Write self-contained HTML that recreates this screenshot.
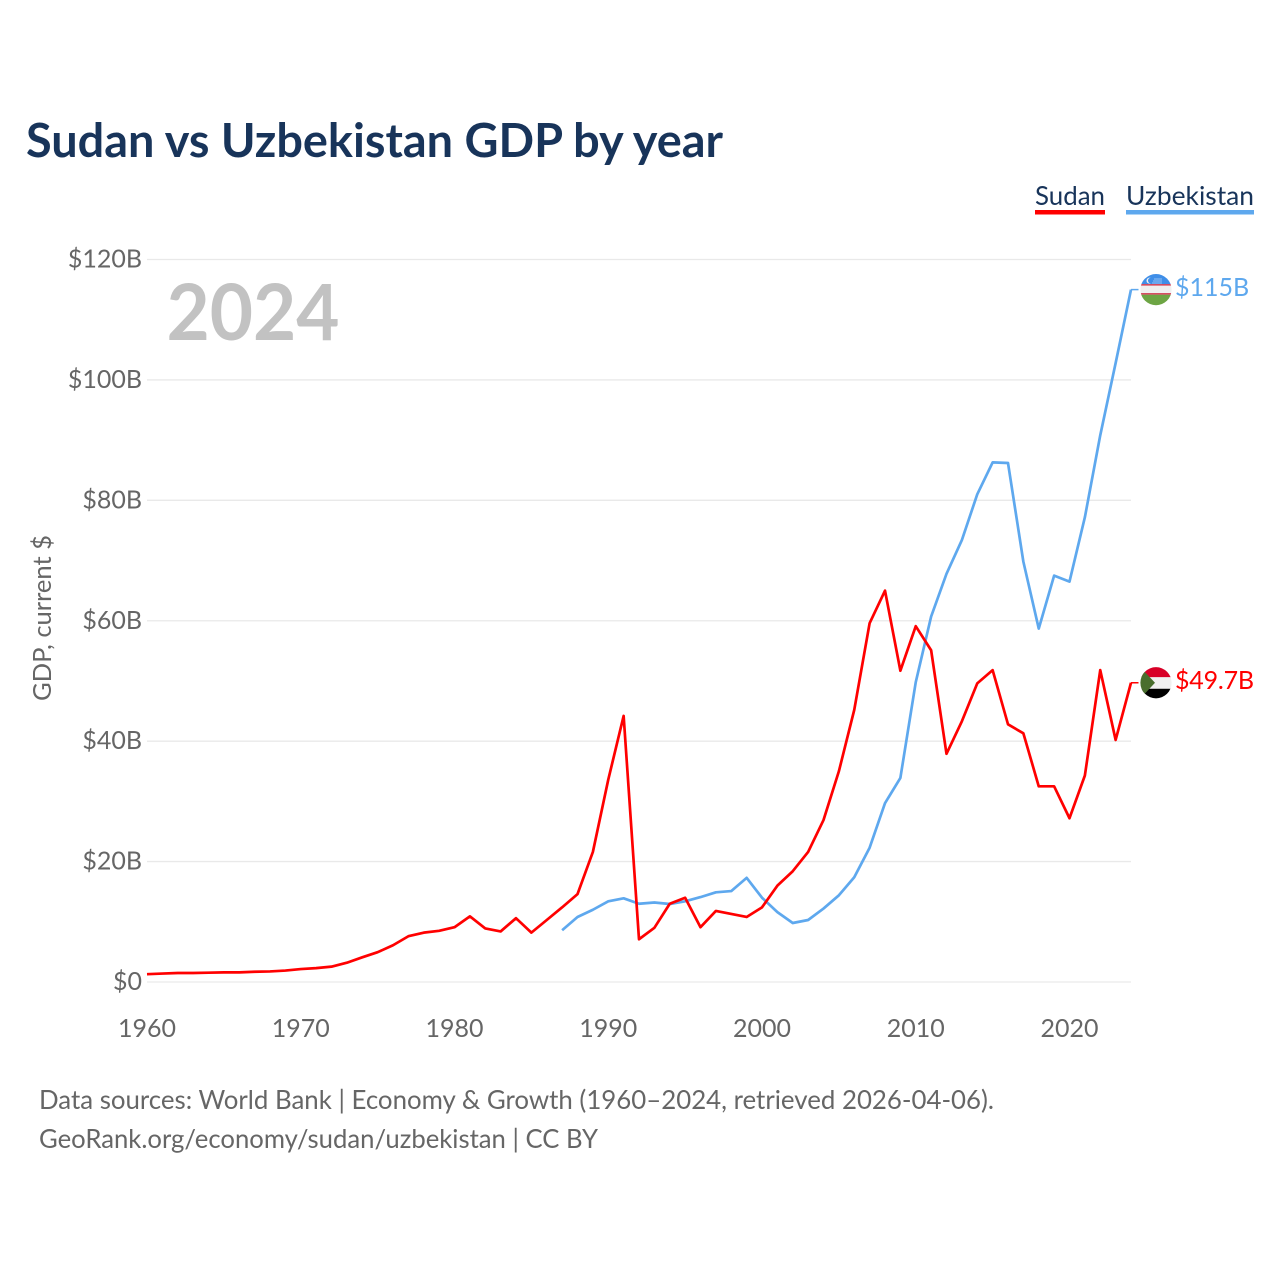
<!DOCTYPE html>
<html lang="en">
<head>
<meta charset="utf-8">
<title>Sudan vs Uzbekistan GDP by year</title>
<style>
html,body{margin:0;padding:0;background:#fff;}
svg{display:block;}
text{font-family:"Lato","Carlito","Liberation Sans",sans-serif;}
</style>
</head>
<body>
<svg id="chart" xmlns="http://www.w3.org/2000/svg" width="1280" height="1280" viewBox="0 0 1280 1280">
  <rect x="0" y="0" width="1280" height="1280" fill="#ffffff"/>
  <text x="26" y="157" font-size="47" font-weight="700" fill="#18345a" textLength="697" lengthAdjust="spacingAndGlyphs">Sudan vs Uzbekistan GDP by year</text>

  <g>
    <g>
      <text x="1035" y="205" font-size="26" fill="#18345a" textLength="70" lengthAdjust="spacingAndGlyphs">Sudan</text>
      <rect x="1035" y="210" width="70" height="4.5" fill="#ff0000"/>
    </g>
    <g>
      <text x="1126" y="205" font-size="26" fill="#18345a" textLength="128" lengthAdjust="spacingAndGlyphs">Uzbekistan</text>
      <rect x="1126" y="210" width="128" height="4.5" fill="#5ea8ee"/>
    </g>
  </g>

  <g id="grid"></g>
  <g id="yticks"></g>
  <g id="xticks"></g>

  <text transform="translate(51,701) rotate(-90)" x="0" y="0" font-size="25" fill="#666666" textLength="166" lengthAdjust="spacingAndGlyphs">GDP, current $</text>
  <text x="166.5" y="340" font-size="78" font-weight="700" fill="#c2c2c2" textLength="173" lengthAdjust="spacingAndGlyphs">2024</text>

  <g id="series"></g>
  <g id="ends"></g>

  <defs>
    <clipPath id="flag-clip"><circle cx="0" cy="0" r="15.6"/></clipPath>
  </defs>

  <g id="flag-uz" clip-path="url(#flag-clip)">
    <rect x="-16" y="-16" width="32" height="10.5" fill="#3f8ee8"/>
    <rect x="-16" y="-5.5" width="32" height="1.6" fill="#d23a50"/>
    <rect x="-16" y="-3.9" width="32" height="7.4" fill="#f0f0f0"/>
    <rect x="-16" y="3.5" width="32" height="1.6" fill="#d23a50"/>
    <rect x="-16" y="5.1" width="32" height="11" fill="#6da544"/>
    <circle cx="-6.5" cy="-9" r="3" fill="#f0f0f0"/>
    <circle cx="-5.2" cy="-9" r="2.8" fill="#3f8ee8"/>
    <rect x="-2" y="-11" width="8" height="0.8" fill="#a9cdf5"/>
    <rect x="-3" y="-9" width="9" height="0.8" fill="#a9cdf5"/>
    <rect x="-4" y="-7" width="10" height="0.8" fill="#a9cdf5"/>
  </g>
  <g id="flag-sd" clip-path="url(#flag-clip)">
    <rect x="-16" y="-16" width="32" height="10.5" fill="#d80027"/>
    <rect x="-16" y="-5.5" width="32" height="11.5" fill="#f0f0f0"/>
    <rect x="-16" y="6" width="32" height="10" fill="#000000"/>
    <path d="M-16,-16 L-1,0 L-16,16 Z" fill="#496e2d"/>
  </g>

  <text x="39" y="1109" font-size="26" fill="#666666" textLength="955" lengthAdjust="spacingAndGlyphs">Data sources: World Bank | Economy &amp; Growth (1960–2024, retrieved 2026-04-06).</text>
  <text x="39" y="1148" font-size="26" fill="#666666" textLength="559" lengthAdjust="spacingAndGlyphs">GeoRank.org/economy/sudan/uzbekistan | CC BY</text>
</svg>

<script>
var years = [1960,1961,1962,1963,1964,1965,1966,1967,1968,1969,1970,1971,1972,1973,1974,1975,1976,1977,1978,1979,1980,1981,1982,1983,1984,1985,1986,1987,1988,1989,1990,1991,1992,1993,1994,1995,1996,1997,1998,1999,2000,2001,2002,2003,2004,2005,2006,2007,2008,2009,2010,2011,2012,2013,2014,2015,2016,2017,2018,2019,2020,2021,2022,2023,2024];
var sudanGdp = [1.3,1.4,1.5,1.5,1.55,1.6,1.6,1.7,1.75,1.9,2.15,2.3,2.55,3.2,4.1,4.95,6.1,7.6,8.2,8.5,9.1,10.9,8.9,8.4,10.6,8.2,10.3,12.4,14.6,21.6,33.6,44.2,7.1,9.0,13.0,14.0,9.1,11.8,11.3,10.8,12.4,16.0,18.4,21.6,26.9,35.0,45.2,59.6,65.0,51.7,59.1,55.1,37.9,43.3,49.6,51.8,42.8,41.3,32.5,32.5,27.2,34.3,51.8,40.2,49.7];
var uzbekistanGdp = [null,null,null,null,null,null,null,null,null,null,null,null,null,null,null,null,null,null,null,null,null,null,null,null,null,null,null,8.6,10.8,12.0,13.4,13.9,13.0,13.2,12.95,13.4,14.1,14.9,15.1,17.3,14.0,11.6,9.8,10.3,12.2,14.4,17.4,22.3,29.7,33.9,49.8,60.7,67.8,73.4,81.0,86.3,86.2,69.8,58.7,67.5,66.5,77.2,90.8,102.8,115.0];
var xTickYears = [1960,1970,1980,1990,2000,2010,2020];
var yTickValues = [0,20,40,60,80,100,120];
var yTickLabels = ["$0","$20B","$40B","$60B","$80B","$100B","$120B"];
var sudanEndLabel = "$49.7B";
var uzbekistanEndLabel = "$115B";

var NS = "http://www.w3.org/2000/svg";
var X0 = 147, X1 = 1131, Y0 = 982, Y1 = 259.5;
function xScale(year) { return X0 + (year - 1960) * (X1 - X0) / (2024 - 1960); }
function yScale(v) { return Y0 - v * (Y0 - Y1) / 120; }
function make(tag, parentId) {
  var el = document.createElementNS(NS, tag);
  document.getElementById(parentId).appendChild(el);
  return el;
}
function linePath(values) {
  var d = "", pen = false;
  for (var i = 0; i < values.length; i++) {
    if (values[i] === null) { pen = false; continue; }
    d += (pen ? "L" : "M") + xScale(years[i]).toFixed(2) + "," + yScale(values[i]).toFixed(2);
    pen = true;
  }
  return d;
}

yTickValues.forEach(function (v, i) {
  var line = make("line", "grid");
  
  
  line.setAttribute("x1", 147);
  line.setAttribute("x2", 1131);
  line.setAttribute("y1", yScale(v));
  line.setAttribute("y2", yScale(v));
  line.setAttribute("stroke", "#e9e9e9");
  line.setAttribute("stroke-width", "1.3");

  var t = make("text", "yticks");
  
  
  t.setAttribute("x", 142);
  t.setAttribute("y", yScale(v) + 8);
  t.setAttribute("text-anchor", "end");
  t.setAttribute("font-size", "25");
  t.setAttribute("fill", "#666666");
  t.textContent = yTickLabels[i];
});

xTickYears.forEach(function (yr) {
  var t = make("text", "xticks");
  
  
  t.setAttribute("x", xScale(yr));
  t.setAttribute("y", 1037);
  t.setAttribute("text-anchor", "middle");
  t.setAttribute("font-size", "25");
  t.setAttribute("fill", "#666666");
  t.textContent = String(yr);
});

var uzLine = make("path", "series");


uzLine.setAttribute("d", linePath(uzbekistanGdp));
uzLine.setAttribute("fill", "none");
uzLine.setAttribute("stroke", "#5ea8ee");
uzLine.setAttribute("stroke-width", "2.7");
uzLine.setAttribute("stroke-linejoin", "round");

var sdLine = make("path", "series");


sdLine.setAttribute("d", linePath(sudanGdp));
sdLine.setAttribute("fill", "none");
sdLine.setAttribute("stroke", "#ff0000");
sdLine.setAttribute("stroke-width", "2.7");
sdLine.setAttribute("stroke-linejoin", "round");

var lastIdx = years.length - 1;
var uzEndY = yScale(uzbekistanGdp[lastIdx]);
var sdEndY = yScale(sudanGdp[lastIdx]);
var endX = xScale(years[lastIdx]);

var uzConn = make("line", "ends");


uzConn.setAttribute("x1", endX);
uzConn.setAttribute("x2", endX + 7.5);
uzConn.setAttribute("y1", uzEndY);
uzConn.setAttribute("y2", uzEndY);
uzConn.setAttribute("stroke", "#5ea8ee");
uzConn.setAttribute("stroke-width", "1.5");

var sdConn = make("line", "ends");


sdConn.setAttribute("x1", endX);
sdConn.setAttribute("x2", endX + 7.5);
sdConn.setAttribute("y1", sdEndY);
sdConn.setAttribute("y2", sdEndY);
sdConn.setAttribute("stroke", "#ff0000");
sdConn.setAttribute("stroke-width", "1.5");

var uzLabel = make("text", "ends");


uzLabel.setAttribute("x", endX + 44);
uzLabel.setAttribute("y", uzEndY + 6.5);
uzLabel.setAttribute("font-size", "25");
uzLabel.setAttribute("fill", "#5ea8ee");
uzLabel.textContent = uzbekistanEndLabel;

var sdLabel = make("text", "ends");


sdLabel.setAttribute("x", endX + 44);
sdLabel.setAttribute("y", sdEndY + 6);
sdLabel.setAttribute("font-size", "25");
sdLabel.setAttribute("letter-spacing", "-0.2");
sdLabel.setAttribute("fill", "#ff0000");
sdLabel.textContent = sudanEndLabel;

document.getElementById("flag-uz").setAttribute("transform", "translate(" + (endX + 25) + "," + uzEndY + ")");
document.getElementById("flag-sd").setAttribute("transform", "translate(" + (endX + 25) + "," + sdEndY + ")");
</script>
</body>
</html>
